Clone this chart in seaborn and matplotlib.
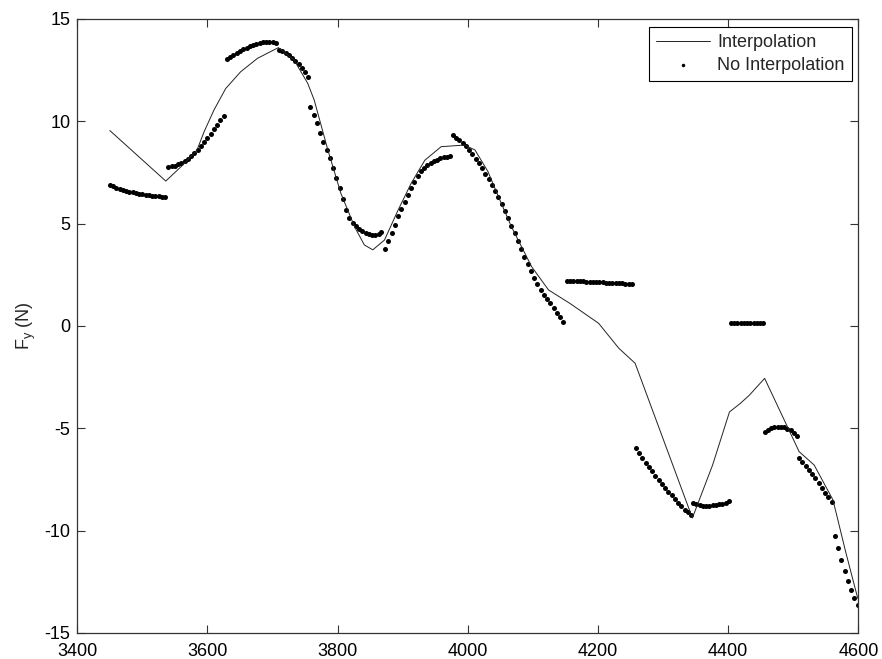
import numpy as np
import pandas as pd
import matplotlib
matplotlib.use("Agg")
import matplotlib.pyplot as plt
import seaborn as sns

# ---- Interpolation (solid line) ----
line_x = [3450, 3536, 3560, 3584, 3595, 3610, 3628, 3651, 3677, 3709, 3733, 3754, 3764,
          3785, 3805, 3826, 3841, 3854, 3872, 3893, 3913, 3934, 3959, 3995, 4011, 4031,
          4047, 4067, 4098, 4124, 4157, 4201, 4232, 4257, 4345, 4376, 4402, 4418, 4432,
          4456, 4509, 4532, 4561, 4581, 4599]
line_y = [9.55, 7.08, 7.8, 8.6, 9.5, 10.55, 11.6, 12.42, 13.08, 13.6, 13.0, 11.86, 11.04,
          8.6, 6.48, 4.85, 3.96, 3.72, 4.2, 5.67, 6.97, 8.1, 8.76, 8.84, 8.6, 7.54,
          6.32, 4.85, 2.9, 1.76, 1.1, 0.13, -1.09, -1.82, -9.38, -6.8, -4.2, -3.8, -3.4,
          -2.56, -6.14, -6.79, -8.5, -11.1, -13.3]

# ---- No Interpolation (dots), sample by sample ----
dot_x = [
    3450, 3455, 3460, 3465, 3470, 3475, 3480, 3485, 3490, 3495, 3500, 3505, 3510, 3515, 3520, 3525, 3530, 3535,
    3540, 3545, 3550, 3555, 3560, 3565, 3570, 3575, 3580, 3585, 3590, 3595, 3600, 3605, 3610, 3615, 3620, 3625,
    3630, 3635, 3640, 3645, 3650, 3655, 3660, 3665, 3670, 3675, 3680, 3685, 3690, 3695, 3700, 3705,
    3710, 3715, 3720, 3725, 3730, 3735, 3740, 3745, 3750, 3755,
    3758, 3763, 3768, 3773, 3778, 3783, 3788, 3793, 3798, 3803, 3808, 3813, 3818, 3823, 3828, 3833, 3838, 3843,
    3848, 3853, 3858, 3863, 3867,
    3873, 3878, 3883, 3888, 3893, 3898, 3903, 3908, 3913, 3918, 3923, 3928, 3933, 3938, 3943, 3948, 3953, 3958,
    3963, 3968, 3973,
    3977, 3982, 3987, 3992, 3997, 4002, 4007, 4012, 4017, 4022, 4027, 4032, 4037, 4042, 4047, 4052, 4057, 4062,
    4067, 4072, 4077, 4082, 4087, 4092, 4097, 4102, 4107, 4112, 4117, 4122, 4127, 4132, 4137, 4142, 4147,
    4152, 4157, 4162, 4167, 4172, 4177, 4182, 4187, 4192, 4197, 4202, 4207, 4212, 4217, 4222, 4227, 4232, 4237,
    4242, 4247, 4252,
    4258, 4263, 4268, 4273, 4278, 4283, 4288, 4293, 4298, 4303, 4308, 4313, 4318, 4323, 4328, 4333, 4338, 4343,
    4346, 4351, 4356, 4361, 4366, 4371, 4376, 4381, 4386, 4391, 4396, 4401,
    4404, 4409, 4414, 4419, 4424, 4429, 4434, 4439, 4444, 4449, 4454,
    4456, 4461, 4466, 4471, 4476, 4481, 4486, 4491, 4496, 4501, 4506,
    4509, 4514, 4519, 4524, 4529, 4534, 4539, 4544, 4549, 4554, 4559,
    4564, 4569, 4574, 4579, 4584, 4589, 4594, 4599,
]
dot_y = [
    6.88, 6.82, 6.76, 6.71, 6.66, 6.61, 6.57, 6.53, 6.49, 6.46, 6.43, 6.41, 6.38, 6.36, 6.35, 6.33, 6.32, 6.32,
    7.78, 7.8, 7.84, 7.9, 7.97, 8.06, 8.17, 8.3, 8.44, 8.6, 8.78, 8.97, 9.17, 9.38, 9.6, 9.83, 10.05, 10.27,
    13.03, 13.15, 13.25, 13.35, 13.43, 13.52, 13.6, 13.67, 13.74, 13.79, 13.83, 13.86, 13.88, 13.88, 13.87, 13.84,
    13.5, 13.42, 13.33, 13.22, 13.1, 12.95, 12.8, 12.6, 12.4, 12.18,
    10.68, 10.3, 9.9, 9.45, 9.0, 8.6, 8.2, 7.7, 7.22, 6.75, 6.2, 5.65, 5.3, 5.05, 4.88, 4.75, 4.64, 4.55,
    4.48, 4.44, 4.45, 4.5, 4.57,
    3.76, 4.15, 4.55, 4.95, 5.35, 5.72, 6.08, 6.42, 6.75, 7.05, 7.32, 7.55, 7.72, 7.86, 7.97, 8.06, 8.13, 8.19,
    8.24, 8.28, 8.31,
    9.33, 9.2, 9.07, 8.93, 8.77, 8.6, 8.4, 8.18, 7.95, 7.7, 7.45, 7.18, 6.9, 6.6, 6.3, 5.98, 5.63, 5.27,
    4.9, 4.52, 4.13, 3.75, 3.38, 3.02, 2.67, 2.34, 2.04, 1.77, 1.52, 1.3, 1.1, 0.86, 0.64, 0.42, 0.2,
    2.22, 2.21, 2.2, 2.2, 2.19, 2.18, 2.17, 2.16, 2.15, 2.15, 2.14, 2.13, 2.12, 2.11, 2.11, 2.1, 2.09, 2.08,
    2.07, 2.06, 2.05,
    -5.94, -6.2, -6.45, -6.68, -6.9, -7.1, -7.32, -7.52, -7.72, -7.9, -8.1, -8.28, -8.46, -8.63, -8.8, -8.97, -9.1, -9.25,
    -8.66, -8.72, -8.76, -8.78, -8.79, -8.79, -8.77, -8.75, -8.72, -8.68, -8.63, -8.57,
    0.16, 0.16, 0.16, 0.16, 0.16, 0.16, 0.16, 0.16, 0.16, 0.16, 0.16,
    -5.16, -5.06, -4.99, -4.94, -4.92, -4.93, -4.96, -5.02, -5.1, -5.22, -5.38,
    -6.47, -6.65, -6.83, -7.02, -7.22, -7.43, -7.66, -7.9, -8.14, -8.38, -8.62,
    -10.26, -10.86, -11.43, -11.95, -12.46, -12.9, -13.3, -13.63,
]

x_ticks = [3400, 3600, 3800, 4000, 4200, 4400, 4600]
y_ticks = [-15, -10, -5, 0, 5, 10, 15]
series_names = ["Interpolation", "No Interpolation"]

sns.set_style("ticks")
plt.rcParams["font.family"] = ["Liberation Sans", "DejaVu Sans"]
plt.rcParams["mathtext.fontset"] = "custom"
plt.rcParams["mathtext.rm"] = "Liberation Sans"

fig = plt.figure(figsize=(8.82, 6.59), dpi=100)
ax = fig.add_axes([0.0876, 0.0395, 0.8856, 0.9317])

df_line = pd.DataFrame({"x": line_x, "y": line_y})
df_dot = pd.DataFrame({"x": dot_x, "y": dot_y})

sns.lineplot(data=df_line, x="x", y="y", ax=ax, sort=False, estimator=None,
             color="#222222", linewidth=0.7, label=series_names[0])
sns.scatterplot(data=df_dot, x="x", y="y", ax=ax, color="black", marker="o",
                s=13, linewidth=0, label=series_names[1])

ax.set_xlim(3400, 4600)
ax.set_ylim(-15, 15)
ax.set_xticks(x_ticks)
ax.set_yticks(y_ticks)
ax.set_xticklabels([str(t) for t in x_ticks])
ax.set_yticklabels([str(t) for t in y_ticks])
ax.tick_params(direction="in", length=6, width=0.8, labelsize=13, top=True, right=True,
               color="#333333", labelcolor="black")
ax.tick_params(axis="x", pad=7)
ax.tick_params(axis="y", pad=5)
for s in ax.spines.values():
    s.set_visible(True)
    s.set_color("#333333")
    s.set_linewidth(0.9)

ax.set_xlabel("")
ax.set_ylabel(r"F$_{\mathrm{y}}$ (N)", fontsize=13)
ax.yaxis.set_label_coords(-0.05, 0.5)

leg = ax.legend(loc="upper right", bbox_to_anchor=(0.9915, 0.9865), fontsize=13,
                frameon=True, fancybox=False, framealpha=1, edgecolor="black",
                handlelength=3.0, handletextpad=0.4, labelspacing=0.3,
                borderpad=0.4, scatterpoints=1, borderaxespad=0, markerscale=0.7)
leg.get_frame().set_linewidth(0.8)

fig.savefig("out.png", dpi=100)
